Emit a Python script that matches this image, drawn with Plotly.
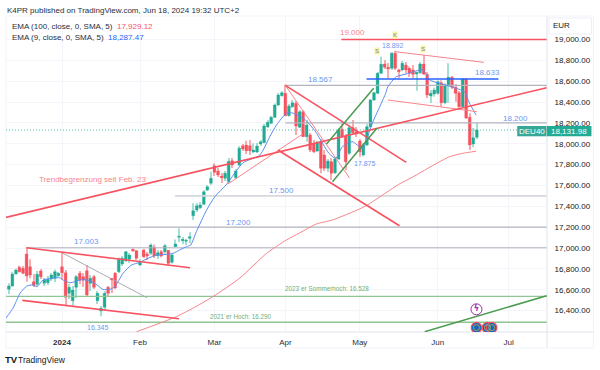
import plotly.graph_objects as go

# ---------- data ----------
first_bar = -15          # bar index; 0 = first session of 2024
opens = [16604,16636,16751,16815,16805,16943,16821,16677,16652,16780,16662,16667,16703,16710,16735,
 16821,16763,16566,16495,16623,16757,16725,16782,16662,16725,16495,16396,16431,16623,16710,16757,
 16773,16847,16878,16892,16988,16974,16837,16981,16943,16949,17010,16926,16965,16965,16978,16863,
 17013,17103,17070,17064,17093,17310,17365,17387,17419,17556,17621,17790,17739,17691,17669,17636,
 17838,17675,17796,17982,17988,17982,17921,17921,17998,18010,18164,18196,18254,18372,18461,18484,
 18269,18356,18388,18158,18308,18068,18084,18004,17931,18020,17892,17765,17828,17722,17854,18139,
 18074,17909,18154,18116,18027,17892,17988,18164,18420,18484,18676,18765,18733,18724,18868,18708,
 18708,18755,18724,18708,18669,18682,18765,18666,18458,18477,18484,18586,18394,18564,18638,18542,
 18490,18356,18621,18254,17998,18062]
highs = [16662,16773,16804,16832,16828,17003,16892,16751,16780,16799,16712,16732,16760,16794,16770,
 16965,16789,16655,16636,16741,16780,16760,16837,16741,16741,16588,16444,16588,16636,16712,16770,
 16909,16923,16972,16952,16997,16981,16895,16991,16962,17043,17034,16981,16981,17039,16981,16952,
 17082,17189,17106,17087,17151,17429,17432,17441,17556,17604,17732,17813,17768,17720,17739,17863,
 17863,17758,17979,17998,18029,18036,18004,18007,18036,18190,18228,18266,18386,18487,18506,18567,
 18381,18420,18410,18324,18324,18228,18103,18036,18027,18046,17940,17854,17863,17873,18151,18196,
 18094,18170,18228,18161,18046,18007,18190,18429,18496,18688,18835,18804,18775,18880,18892,18720,
 18794,18784,18740,18756,18688,18784,18851,18688,18516,18540,18610,18610,18580,18772,18650,18573,
 18505,18631,18631,18292,18151,18206]
lows = [16559,16629,16745,16765,16751,16677,16710,16626,16636,16703,16636,16645,16684,16674,16722,
 16693,16453,16511,16444,16518,16655,16626,16530,16588,16607,16463,16345,16406,16540,16568,16607,
 16760,16827,16866,16856,16962,16885,16827,16904,16885,16933,16904,16895,16909,16947,16827,16851,
 17010,17055,17039,17029,17045,17269,17345,17374,17413,17547,17604,17691,17681,17624,17643,17624,
 17768,17662,17787,17931,17902,17892,17908,17911,17979,18007,18151,18190,18247,18362,18453,18266,
 18262,18343,18084,18151,18065,18020,17921,17911,17921,17717,17739,17729,17652,17710,17844,18055,
 17748,17892,18094,18065,17875,17878,17979,18156,18410,18477,18669,18717,18628,18708,18708,18631,
 18695,18674,18640,18631,18509,18669,18660,18439,18391,18451,18470,18356,18380,18391,18525,18403,
 18343,18343,18238,17940,17966,18046]
closes = [16636,16751,16789,16773,16757,16732,16741,16642,16748,16725,16693,16700,16741,16773,16757,
 16763,16527,16623,16597,16725,16693,16693,16549,16710,16623,16566,16422,16566,16566,16693,16617,
 16892,16901,16965,16933,16974,16901,16863,16917,16926,17029,16923,16955,16923,17022,16853,16933,
 17039,17112,17084,17074,17109,17358,17406,17413,17540,17588,17669,17726,17700,17675,17717,17832,
 17796,17739,17957,17950,17934,17934,17940,17979,18020,18170,18206,18254,18372,18468,18490,18269,
 18362,18394,18170,18308,18068,18180,17940,17924,18014,17765,17765,17835,17717,17854,18132,18074,
 17828,18154,18106,18094,17924,17988,18164,18420,18490,18676,18762,18733,18717,18868,18724,18691,
 18772,18708,18676,18666,18686,18765,18669,18468,18484,18516,18595,18394,18564,18638,18542,18484,
 18356,18621,18247,17988,18058,18131.98]

ema9_bar = [-15.8,-13.8,-11.8,-9.9,-8.2,-7,-5.4,-2.5,-0.6,0.3,2.3,5.1,7.3,9.9,11.5,13.5,14.9,17.2,19.6,22,24.2,
 26.8,29.6,31.3,33.2,35.1,36.3,37.9,40.8,43.1,46.5,51,55.8,58.6,60.5,63.3,65.1,67,68.7,71.5,75.3,77.2,79.1,
 81.9,84.7,87.5,91.3,91.9,94.3,97.1,101.8,103.7,106.5,111.2,113.5,114.9,116.8]
ema9_val = [16329,16425,16568,16636,16645,16629,16693,16710,16715,16693,16667,16693,16693,16645,16604,16604,16629,
 16757,16837,16863,16901,16933,16940,16949,16981,17013,17029,17157,17365,17492,17614,17816,17892,18068,18180,
 18292,18295,18260,18228,18116,17908,17860,17972,18020,17956,18196,18484,18547,18643,18669,18708,18612,18580,
 18532,18499,18391,18276]
ema100_bar = [21,31.8,36.9,42.5,50.1,57.7,63.3,67,71.7,76.3,83.9,86.2,90.4,94.9,99.9,104.5,109.3,113,116.8]
ema100_val = [16197,16335,16422,16533,16710,16949,17077,17144,17230,17269,17374,17413,17508,17609,17700,17790,
 17876,17908,17929]

last_price = 18131.98
month_bars = [0,22,43,63,84,106,126]
month_labels = ["<b>2024</b>","Feb","Mar","Apr","May","Jun","Jul"]
price_ticks = [16400,16600,16800,17000,17200,17400,17600,17800,18000,18200,18400,18600,18800,19000]

# horizontal drawings: price, first bar
level_red = (19000, 78.8)
level_blue = (18621, 85.9, 123.1)
levels_gray = [(18560, 63), (18200, 63), (17003, -10.1), (17200, 22)]
level_pale = (17500, 31.8)
levels_green = [(16537, -15.8), (16288, -15.8)]
# sloped drawings: bar0, price0, bar1, price1
red_thick = [(-15.8,17294,136.7,18538),(63,18560,97.1,17822),(60.9,17940,95.2,17214),
             (-10.1,17003,36.1,16811),(-11.2,16498,33,16322)]
red_thin = [(63,18560,81.1,17672),(46.8,17614,67.9,18094),(94,18883,119,18781),(91.9,18420,117,18308)]
gray_thin = [(0,16955,24,16523)]
green_thick = [(74.6,17998,87.9,18532),(76.3,17636,88.8,18148),(102.3,16197,136.7,16543)]
event_bars = [116.9,120,121.2]
event_price = 16236
bolt_bar, bolt_price = 116.9, 16412

# ---------- styles ----------
UP, DOWN = "#22AB94", "#F7525F"
UPW, DOWNW = "#A3DFD3", "#F9ABB0"
BLUE, LBL = "#5B8DEF", "#6D97F0"
FONT = "Liberation Sans"
L, R, T, B = 6, 547.5, 16, 332
bars = list(range(first_bar, first_bar + len(opens)))

fig = go.Figure()
# wicks as thin bars (bar layer sits under the candle bodies)
fig.add_trace(go.Bar(x=bars, base=lows, y=[h - l for h, l in zip(highs, lows)], width=0.28,
    marker=dict(color=[UPW if c >= o else DOWNW for o, c in zip(opens, closes)], line=dict(width=0)), hoverinfo="skip"))
fig.add_trace(go.Candlestick(x=bars, open=opens, close=closes,
    high=[max(o, c) for o, c in zip(opens, closes)], low=[min(o, c) for o, c in zip(opens, closes)],
    whiskerwidth=0,
    increasing=dict(line=dict(color=UP, width=0.3), fillcolor=UP),
    decreasing=dict(line=dict(color=DOWN, width=0.3), fillcolor=DOWN)))

def line(x, y, color, width, dash=None, shape=None):
    fig.add_trace(go.Scatter(x=x, y=y, mode="lines",
        line=dict(color=color, width=width, dash=dash, shape=shape or "linear", smoothing=0.6 if shape else None)))

X_MAX = 136.7
for p, b in levels_gray:
    line([b, X_MAX], [p, p], "#B2B5BE", 1.1)
line([level_pale[1], X_MAX], [level_pale[0]]*2, "#D6D8DE", 1.6)
for p, b in levels_green:
    line([b, X_MAX], [p, p], "#8FC493", 1.3)
line([-15.8, X_MAX], [last_price]*2, UP, 0.8, dash="1px,2px")
line(ema100_bar, ema100_val, "#F7848C", 1, shape="spline")
line(ema9_bar, ema9_val, BLUE, 1, shape="spline")
for a, b, c, d in gray_thin:
    line([a, c], [b, d], "#9FA2AA", 0.9)
for a, b, c, d in red_thin:
    line([a, c], [b, d], "#F7848C", 1)
for a, b, c, d in red_thick:
    line([a, c], [b, d], DOWN, 1.6)
for a, b, c, d in green_thick:
    line([a, c], [b, d], "#4C9A50", 1.5)
line([level_red[1], X_MAX], [level_red[0]]*2, DOWN, 1.6)
line([level_blue[1], level_blue[2]], [level_blue[0]]*2, "#2962FF", 1.5)

# event markers
fig.add_trace(go.Scatter(x=event_bars, y=[event_price]*3, mode="markers", marker=dict(size=10.5, color="#1565C0",
    line=dict(color="#F7525F", width=1.2))))
fig.add_trace(go.Scatter(x=event_bars, y=[event_price]*3, mode="markers", marker=dict(size=6, symbol="circle-open",
    color="#C9B24A", line=dict(color="#C9B24A", width=0.8))))
fig.add_trace(go.Scatter(x=[bolt_bar], y=[bolt_price], mode="markers+text", text=["<b>ϟ</b>"],
    textposition="middle center", textfont=dict(color="#9C27B0", size=8, family="DejaVu Sans"),
    marker=dict(size=11, color="white", line=dict(color="#9C27B0", width=1))))

def xp(x): return (x - L) / (R - L)
def yp(y): return (B - y) / (B - T)

def note(text, x, y, size=8, color="#131722", anchor="center", **kw):
    fig.add_annotation(text=text, x=xp(x), y=yp(y), xref="paper", yref="paper", showarrow=False,
        xanchor=anchor, yanchor="middle", font=dict(size=size, color=color, family=FONT), borderpad=0, **kw)

note("K4PR published on TradingView.com, Jun 18, 2024 19:32 UTC+2", 6, 10.5, 8, "#2A2E39", "left")
note('EMA (100, close, 0, SMA, 5)  <span style="color:#F7525F">17,929.12</span>', 11, 27, 8, "#2A2E39", "left")
note('EMA (9, close, 0, SMA, 5)  <span style="color:#2962FF">18,287.47</span>', 11, 37, 8, "#2A2E39", "left")
note("19.000", 352.7, 32.7, 8, "#F7848C")
for t, x, y, s in [("18.892",393,45.5,7),("18.567",320.7,79.7,8),("18.633",487.7,73,8),("18.200",516,118.7,8),
                   ("17.875",365,163.7,7),("17.500",281.7,190,8),("17.200",239,222.7,8),("17.003",86.7,241.7,8),
                   ("16.345",98.3,327.7,7)]:
    note(t, x, y, s, LBL)
note("Trendbegrenzung seit Feb. 23´", 94.3, 179, 8, "#F7848C")
note("2023´er Sommerhoch: 16.528", 327, 288.3, 6.3, "#6FAF76")
note("2021´er Hoch: 16.290", 241, 316, 6.3, "#6FAF76")
for t, x, y in [("S",377.3,51.3),("S",423.3,49.3),("K",395,34.7)]:
    note(t, x, y, 6, "#6C85B5", bgcolor="#FFF3A0")
note("EUR", 561.7, 26, 8, "#131722")
note("DEU40", 532, 131.2, 8, "white")
note("18,131.98", 570, 131.2, 8, "white")
note("<b>TV</b>", 11.5, 359.5, 9.5, "#131722")
note("TradingView", 42, 359.5, 8.5, "#131722")

shapes = []
def box(x0, y0, x1, y1, **kw):
    shapes.append(dict(type="rect", xref="paper", yref="paper", x0=xp(x0), x1=xp(x1), y0=yp(y0), y1=yp(y1), **kw))
def rule(x0, y0, x1, y1, color):
    shapes.append(dict(type="line", xref="paper", yref="paper", x0=xp(x0), x1=xp(x1), y0=yp(y0), y1=yp(y1),
                       line=dict(color=color, width=1), layer="below"))
rule(L, T, 594, T, "#F0F3FA")
rule(L, 348, 594, 348, "#F0F3FA")
rule(594, T, 594, 348, "#F0F3FA")
rule(L, T, L, 348, "#F0F3FA")
rule(R, T, R, 348, "#E0E3EB")
rule(L, B, 594, B, "#E0E3EB")
box(549.5, 18, 592, 34, line=dict(color="#EDEFF4", width=1), fillcolor="white", layer="below")
box(517.7, 126, 547, 136.3, line=dict(width=0), fillcolor="#35A896", layer="above")
box(547.5, 126, 592, 136.3, line=dict(width=0), fillcolor=UP, layer="above")

fig.update_layout(width=600, height=370, autosize=False, showlegend=False, plot_bgcolor="white", paper_bgcolor="white",
    margin=dict(l=L, r=600 - R, t=T, b=370 - B, pad=0), shapes=shapes, font=dict(family=FONT, size=8, color="#131722"),
    boxgap=0.2, boxgroupgap=0, barmode="overlay",
    xaxis=dict(range=[-15.8, 136.8], tickvals=month_bars, ticktext=month_labels, showgrid=True, gridcolor="#F3F5FA",
               gridwidth=1, zeroline=False, rangeslider=dict(visible=False), ticks="outside", ticklen=2,
               tickcolor="rgba(0,0,0,0)", tickfont=dict(size=8, color="#2A2E39"), showline=False),
    yaxis=dict(range=[16194.5, 19225.5], side="right", tickvals=price_ticks, tickformat=",.2f", showgrid=True,
               gridcolor="#F3F5FA", gridwidth=1, zeroline=False, ticks="outside", ticklen=5,
               tickcolor="rgba(0,0,0,0)", tickfont=dict(size=8, color="#131722"), showline=False),
)
fig.write_html("out.html", config={"displayModeBar": False}, post_script="document.body.style.margin='0';")
